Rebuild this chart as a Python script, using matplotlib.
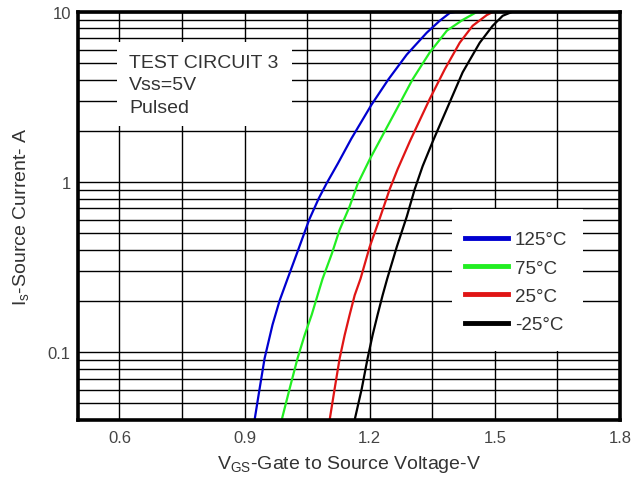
import matplotlib
matplotlib.use("Agg")
import matplotlib.pyplot as plt
from matplotlib.patches import Rectangle
from matplotlib.ticker import FixedLocator, NullFormatter

plt.rcParams['font.family'] = ['Liberation Sans', 'DejaVu Sans']
plt.rcParams['mathtext.fontset'] = 'custom'
plt.rcParams['mathtext.rm'] = 'Liberation Sans'
plt.rcParams['mathtext.default'] = 'regular'

# curves (Vgs in V, Is in A)
v_125 = [0.924, 0.936, 0.948, 0.967, 0.984, 1.003, 1.025, 1.055, 1.078, 1.097,
         1.124, 1.156, 1.204, 1.245, 1.289, 1.337, 1.368, 1.392, 1.405, 1.705]
i_125 = [0.04, 0.061, 0.092, 0.145, 0.201, 0.27, 0.378, 0.602, 0.803, 0.986,
         1.29, 1.80, 2.84, 4.02, 5.62, 7.56, 8.88, 9.87, 10, 10]

v_75 = [0.989, 1.008, 1.027, 1.044, 1.061, 1.075, 1.087, 1.109, 1.128, 1.152, 1.171,
        1.200, 1.224, 1.265, 1.303, 1.344, 1.385, 1.423, 1.457]
i_75 = [0.04, 0.061, 0.092, 0.126, 0.166, 0.216, 0.27, 0.378, 0.525, 0.72, 0.973,
        1.36, 1.75, 2.69, 4.02, 5.78, 7.76, 8.98, 10]

v_25 = [1.104, 1.116, 1.128, 1.140, 1.152, 1.164, 1.178, 1.200, 1.224, 1.248, 1.267,
        1.297, 1.344, 1.380, 1.416, 1.447, 1.481, 1.495]
i_25 = [0.04, 0.061, 0.092, 0.126, 0.166, 0.216, 0.27, 0.416, 0.61, 0.908, 1.19,
        1.75, 3.08, 4.60, 6.6, 8.3, 9.6, 10]

v_m25 = [1.164, 1.181, 1.195, 1.207, 1.219, 1.231, 1.242, 1.265, 1.289, 1.308, 1.327,
         1.352, 1.385, 1.423, 1.464, 1.495, 1.519, 1.541]
i_m25 = [0.04, 0.061, 0.092, 0.126, 0.166, 0.216, 0.27, 0.416, 0.627, 0.908, 1.24,
         1.75, 2.69, 4.42, 6.6, 8.3, 9.5, 10]

labels = ['125°C', '75°C', '25°C', '-25°C']
colors = ['#0000d0', '#22ee22', '#e01515', '#000000']

x_major = [0.6, 0.9, 1.2, 1.5, 1.8]
x_minor = [0.75, 1.05, 1.35, 1.65]
y_major = [0.1, 1, 10]
y_labels = ['0.1', '1', '10']
y_minor = [0.05, 0.06, 0.07, 0.08, 0.09, 0.2, 0.3, 0.4, 0.5, 0.6, 0.7, 0.8, 0.9,
           2, 3, 4, 5, 6, 7, 8, 9]

fig = plt.figure(figsize=(6.43, 4.81), dpi=100)
ax = fig.add_axes([0.121, 0.125, 0.843, 0.848])

curves = [(v_125, i_125), (v_75, i_75), (v_25, i_25), (v_m25, i_m25)]
for (v, i), lab, c in zip(curves, labels, colors):
    ax.plot(v, i, color=c, lw=1.6, label=lab, zorder=3)

ax.set_yscale('log')
ax.set_xlim(0.5, 1.8)
ax.set_ylim(0.04, 10)

ax.xaxis.set_major_locator(FixedLocator(x_major))
ax.xaxis.set_minor_locator(FixedLocator(x_minor))
ax.yaxis.set_major_locator(FixedLocator(y_major))
ax.yaxis.set_minor_locator(FixedLocator(y_minor))
ax.yaxis.set_minor_formatter(NullFormatter())
ax.set_yticklabels(y_labels)
ax.grid(True, which='both', color='black', lw=1.0, zorder=1)
ax.tick_params(which='both', length=0, labelsize=12, labelcolor='#444444')
ax.tick_params(axis='x', pad=7)
ax.tick_params(axis='y', pad=5)

for s in ax.spines.values():
    s.set_linewidth(2.6)
    s.set_zorder(5)

# white box behind the test conditions text
ax.add_patch(Rectangle((0.072, 0.72), 0.323, 0.206, transform=ax.transAxes,
                       facecolor='white', edgecolor='none', zorder=2))
ax.text(0.095, 0.898, 'TEST CIRCUIT 3\nVss=5V\nPulsed', transform=ax.transAxes,
        fontsize=14, color='#333333', va='top', ha='left', linespacing=1.42,
        zorder=4)

# white box behind the legend
ax.add_patch(Rectangle((0.690, 0.169), 0.242, 0.348, transform=ax.transAxes,
                       facecolor='white', edgecolor='none', zorder=2))
leg = ax.legend(loc='upper left', bbox_to_anchor=(0.714, 0.463), fontsize=13.5,
                frameon=False, handlelength=2.3, handletextpad=0.37,
                labelspacing=0.6, borderpad=0, borderaxespad=0)
leg.set_zorder(4)
for t in leg.get_texts():
    t.set_color('#333333')
for h in leg.get_lines():
    h.set_linewidth(3.5)

ax.set_xlabel('V$_{GS}$-Gate to Source Voltage-V', fontsize=14, color='#333333', labelpad=6)
ax.set_ylabel('I$_{s}$-Source Current- A', fontsize=14, color='#333333', labelpad=12)

fig.savefig('out.png', dpi=100)
